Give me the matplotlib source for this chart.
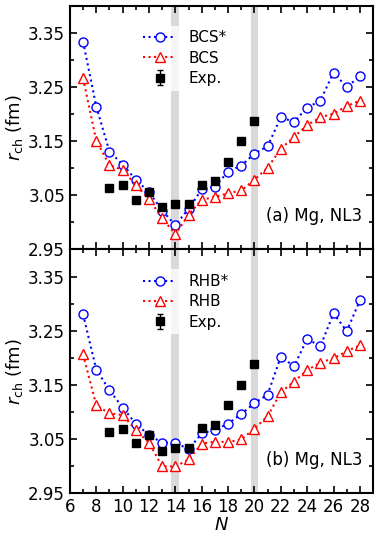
import numpy as np
import matplotlib
matplotlib.use('Agg')
import matplotlib.pyplot as plt

### data
N = np.arange(7, 29)

# (a) BCS
bcs_star = [3.334, 3.214, 3.131, 3.107, 3.079, 3.056, 3.022, 2.995, 3.025, 3.061, 3.066,
            3.094, 3.105, 3.127, 3.141, 3.194, 3.186, 3.212, 3.225, 3.277, 3.250, 3.270]
bcs = [3.266, 3.151, 3.106, 3.097, 3.069, 3.043, 3.008, 2.978, 3.014, 3.042, 3.047,
       3.054, 3.059, 3.079, 3.101, 3.136, 3.158, 3.180, 3.194, 3.201, 3.215, 3.225]

# (b) RHB
rhb_star = [3.280, 3.178, 3.140, 3.108, 3.078, 3.057, 3.043, 3.043, 3.031, 3.060, 3.067,
            3.078, 3.096, 3.116, 3.132, 3.202, 3.184, 3.235, 3.221, 3.282, 3.249, 3.306]
rhb = [3.206, 3.112, 3.097, 3.094, 3.066, 3.043, 2.999, 2.999, 3.012, 3.041, 3.045,
       3.044, 3.049, 3.069, 3.092, 3.136, 3.156, 3.177, 3.191, 3.199, 3.212, 3.223]

# experiment
N_exp = np.arange(9, 21)
r_exp = [3.063, 3.069, 3.042, 3.057, 3.028, 3.034, 3.034, 3.070, 3.076, 3.112, 3.150, 3.188]
r_err = [0.003, 0.003, 0.003, 0.002, 0.002, 0.002, 0.003, 0.003, 0.003, 0.003, 0.004, 0.004]

plt.rcParams['font.family'] = 'DejaVu Sans'

fig, axes = plt.subplots(2, 1, figsize=(3.78, 5.42), dpi=100, sharex=True)
fig.subplots_adjust(left=0.185, right=0.987, top=0.989, bottom=0.0904, hspace=0)

panels = [(axes[0], bcs_star, bcs, 'BCS*', 'BCS', '(a) Mg, NL3'),
          (axes[1], rhb_star, rhb, 'RHB*', 'RHB', '(b) Mg, NL3')]

for ax, star, base, lab_star, lab_base, tag in panels:
    # magic numbers shaded
    for n_magic in (14, 20):
        ax.axvspan(n_magic - 0.3, n_magic + 0.3, color='#d9d9d9', lw=0, zorder=0)
    ax.plot(N, star, ls=':', lw=1.5, c='blue', marker='o', mfc='white', mec='blue',
            ms=6.5, mew=1.0, label=lab_star)
    ax.plot(N, base, ls=':', lw=1.5, c='red', marker='^', mfc='white', mec='red',
            ms=6.5, mew=1.0, label=lab_base)
    ax.errorbar(N_exp, r_exp, yerr=r_err, fmt='s', c='black', ms=6, capsize=2,
                elinewidth=1, label='Exp.')

    ax.set_xlim(6, 29)
    ax.set_ylim(2.95, 3.40)
    ax.set_yticks([2.95, 3.05, 3.15, 3.25, 3.35])
    ax.set_yticks(np.arange(3.0, 3.40, 0.1), minor=True)
    ax.set_xticks(np.arange(6, 29, 2))
    ax.set_xticks(np.arange(7, 30, 2), minor=True)
    ax.tick_params(which='both', direction='in', top=True, right=True, labelsize=12, width=1.2)
    ax.tick_params(which='major', length=5)
    ax.tick_params(which='minor', length=3)
    for sp in ax.spines.values():
        sp.set_linewidth(1.5)
    ax.set_ylabel(r'$r_{\rm ch}$ (fm)', fontsize=13, labelpad=2)

    leg = ax.legend(loc='upper left', bbox_to_anchor=(0.2, 0.95), fontsize=11,
                    frameon=True, framealpha=0.75, edgecolor='none', fancybox=False,
                    handlelength=2.2, borderpad=0.3, labelspacing=0.35)
    ax.text(0.965, 0.1, tag, transform=ax.transAxes, ha='right', va='bottom', fontsize=12)

axes[1].set_xlabel(r'$N$', fontsize=13, labelpad=0)

plt.savefig('out.png', dpi=100)
plt.close()
